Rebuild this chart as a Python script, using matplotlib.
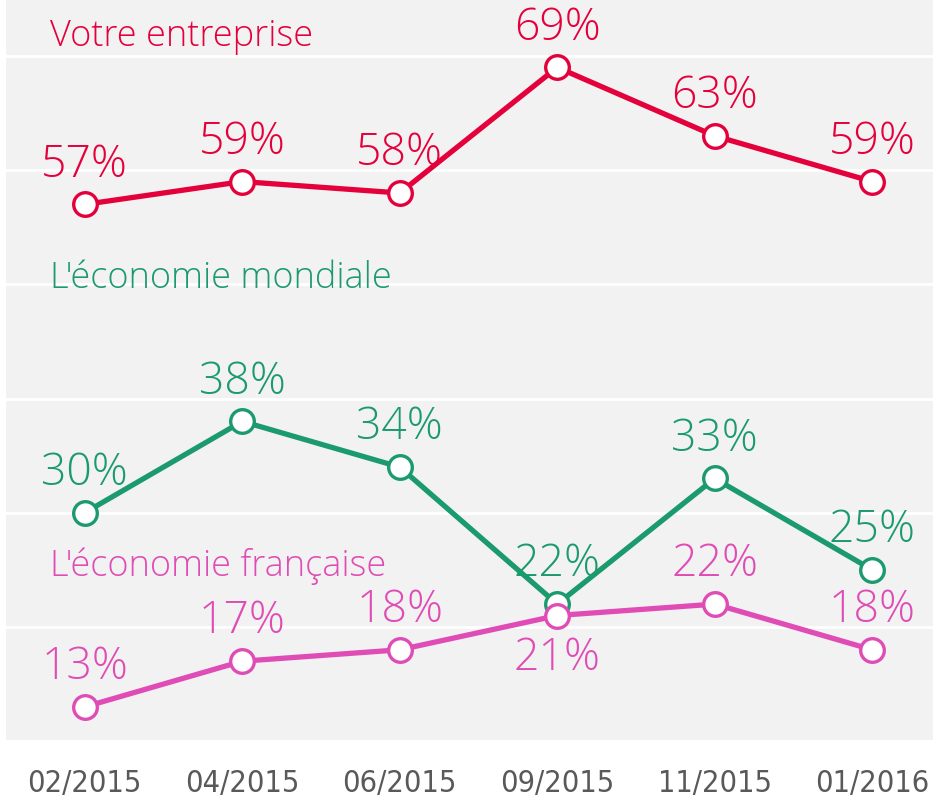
import matplotlib.pyplot as plt
from matplotlib import font_manager

# Données
dates = ['02/2015', '04/2015', '06/2015', '09/2015', '11/2015', '01/2016']
entreprise = [57, 59, 58, 69, 63, 59]
mondiale = [30, 38, 34, 22, 33, 25]
francaise = [13, 17, 18, 21, 22, 18]

c_rouge = '#e4003b'
c_vert = '#1b9a6e'
c_rose = '#e04cb5'

fonts = font_manager.fontManager.ttflist
noms = [f.name for f in fonts]
police = 'Open Sans' if 'Open Sans' in noms else 'DejaVu Sans'

# police étroite pour l'axe des x, si une est installée
etroites = [f.name for f in fonts
            if f.stretch in ('condensed', 'semi-condensed', 'extra-condensed')
            or 'Narrow' in f.name or 'Condensed' in f.name]
police_axe = etroites[0] if etroites else police
stretch_axe = 'condensed'

fig = plt.figure(figsize=(9.33, 7.99), dpi=100)
fig.patch.set_facecolor('white')
# l'axe déborde un peu à droite comme sur l'original
ax = fig.add_axes([6 / 933, 59 / 799, 945 / 933, 740 / 799])
ax.set_facecolor('#f2f2f2')

x = list(range(len(dates)))
ax.set_xlim(-0.5, 5.5)
ax.set_ylim(10.1, 74.9)

for v in [20, 30, 40, 50, 60, 70]:
    ax.axhline(v, color='white', lw=2, zorder=1)

series = [
    (entreprise, c_rouge, 'Votre entreprise', 70.9),
    (mondiale, c_vert, "L'économie mondiale", 49.7),
    (francaise, c_rose, "L'économie française", 24.5),
]

for vals, col, nom, y_nom in series:
    ax.plot(x, vals, color=col, lw=3.8, marker='o', ms=17, mfc='white',
            mec=col, mew=2.4, zorder=3)
    ax.text(-0.22, y_nom, nom, color=col, fontsize=26, family=police,
            weight='light', ha='left', va='baseline', zorder=4)
    for i, v in enumerate(vals):
        dessous = (col == c_rose and i == 3)
        dy = -15 if dessous else 20
        ax.annotate(f'{v}%', (i, v), xytext=(0, dy), textcoords='offset points',
                    ha='center', va='top' if dessous else 'baseline',
                    color=col, fontsize=32, family=police, weight='light',
                    zorder=4)

ax.set_xticks(x)
ax.set_xticklabels(dates, fontsize=22, color='#595959', family=police_axe,
                   stretch=stretch_axe)
ax.set_yticks([])
ax.tick_params(axis='x', length=0, pad=21)
for s in ax.spines.values():
    s.set_visible(False)

fig.savefig('out.png', dpi=100)
